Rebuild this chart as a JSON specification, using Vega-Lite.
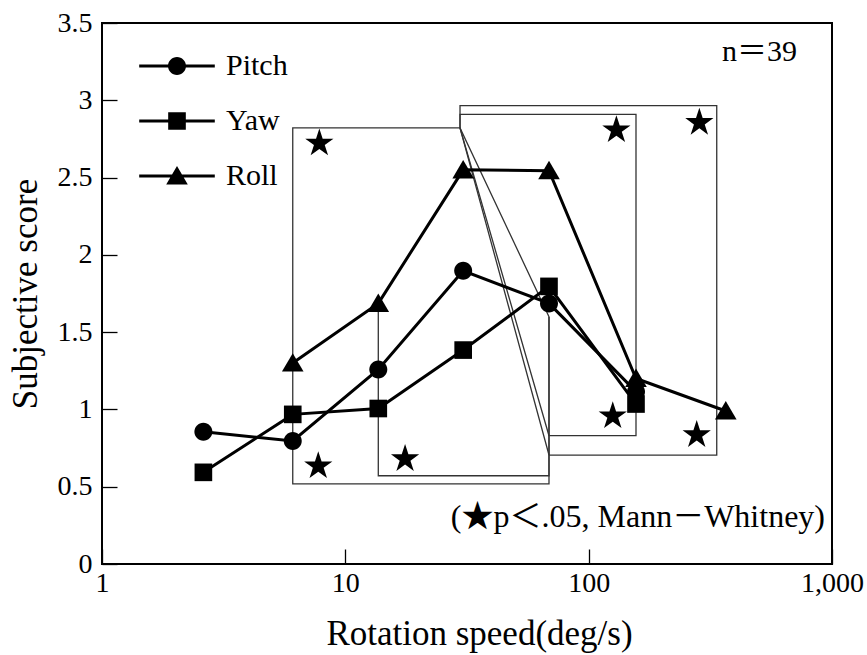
{
  "$schema": "https://vega.github.io/schema/vega-lite/v6.json",
  "width": 730,
  "height": 541,
  "autosize": {"type": "none"},
  "padding": {"left": 102, "top": 23, "right": 35, "bottom": 91},
  "background": "white",
  "config": {
    "view": {"stroke": "black", "strokeWidth": 2},
    "font": "Liberation Serif",
    "axis": {
      "grid": false, "domain": false,
      "labelFont": "Liberation Serif",
      "titleFont": "Liberation Serif",
      "labelColor": "black", "titleColor": "black", "tickColor": "black",
      "tickWidth": 1.3, "titleFontWeight": "normal"
    }
  },
  "datasets": {
    "series": [
      {"series": "Pitch", "x": 2.61, "y": 0.856},
      {"series": "Pitch", "x": 6.08, "y": 0.796},
      {"series": "Pitch", "x": 13.66, "y": 1.259},
      {"series": "Pitch", "x": 30.5, "y": 1.897},
      {"series": "Pitch", "x": 68.7, "y": 1.686},
      {"series": "Pitch", "x": 156.5, "y": 1.115},
      {"series": "Yaw", "x": 2.61, "y": 0.593},
      {"series": "Yaw", "x": 6.08, "y": 0.968},
      {"series": "Yaw", "x": 13.66, "y": 1.006},
      {"series": "Yaw", "x": 30.5, "y": 1.384},
      {"series": "Yaw", "x": 68.7, "y": 1.796},
      {"series": "Yaw", "x": 156.5, "y": 1.035},
      {"series": "Roll", "x": 6.08, "y": 1.30},
      {"series": "Roll", "x": 13.66, "y": 1.686},
      {"series": "Roll", "x": 30.5, "y": 2.55},
      {"series": "Roll", "x": 68.7, "y": 2.544},
      {"series": "Roll", "x": 156.5, "y": 1.20},
      {"series": "Roll", "x": 366, "y": 0.99}
    ],
    "brackets": [
      {"b": "A", "k": 1, "x": 68.7, "y": 1.6},
      {"b": "A", "k": 2, "x": 29.6, "y": 2.821},
      {"b": "A", "k": 3, "x": 6.08, "y": 2.821},
      {"b": "A", "k": 4, "x": 6.08, "y": 0.518},
      {"b": "A", "k": 5, "x": 68.7, "y": 0.518},
      {"b": "A", "k": 6, "x": 68.7, "y": 1.6},
      {"b": "B", "k": 1, "x": 13.66, "y": 1.69},
      {"b": "B", "k": 2, "x": 13.66, "y": 0.571},
      {"b": "B", "k": 3, "x": 68.7, "y": 0.571},
      {"b": "B", "k": 4, "x": 68.7, "y": 1.6},
      {"b": "C", "k": 1, "x": 68.7, "y": 0.83},
      {"b": "C", "k": 2, "x": 156.5, "y": 0.83},
      {"b": "C", "k": 3, "x": 156.5, "y": 2.909},
      {"b": "C", "k": 4, "x": 29.6, "y": 2.909},
      {"b": "C", "k": 5, "x": 29.6, "y": 2.821},
      {"b": "C", "k": 6, "x": 68.7, "y": 0.83},
      {"b": "D", "k": 1, "x": 68.7, "y": 0.705},
      {"b": "D", "k": 2, "x": 336, "y": 0.705},
      {"b": "D", "k": 3, "x": 336, "y": 2.965},
      {"b": "D", "k": 4, "x": 29.6, "y": 2.965},
      {"b": "D", "k": 5, "x": 29.6, "y": 2.821},
      {"b": "D", "k": 6, "x": 68.7, "y": 0.705}
    ],
    "stars": [
      {"x": 7.82, "y": 2.722},
      {"x": 7.74, "y": 0.634},
      {"x": 17.6, "y": 0.68},
      {"x": 130, "y": 2.808},
      {"x": 285, "y": 2.855},
      {"x": 125.6, "y": 0.957},
      {"x": 278, "y": 0.835}
    ],
    "notes": [
      {"x": 718, "y": 3.31, "label": "n＝39", "size": 30},
      {"x": 936, "y": 0.304, "label": "(★p＜.05, Mann－Whitney)", "size": 32}
    ]
  },
  "encoding": {
    "x": {
      "field": "x", "type": "quantitative",
      "scale": {"type": "log", "domain": [1, 1000]},
      "axis": {
        "title": "Rotation speed(deg/s)", "values": [1, 10, 100, 1000], "format": ",d",
        "tickSize": -15, "labelPadding": 20, "labelFontSize": 28, "titleFontSize": 35,
        "labelFlush": false, "labelOverlap": false, "titlePadding": 19, "titleX": 377
      }
    },
    "y": {
      "field": "y", "type": "quantitative",
      "scale": {"domain": [0, 3.5]},
      "axis": {
        "title": "Subjective score", "values": [0, 0.5, 1, 1.5, 2, 2.5, 3, 3.5], "format": "~g",
        "tickSize": -15, "labelPadding": 25, "labelFontSize": 28, "titleFontSize": 35,
        "labelFlush": false, "labelOverlap": false, "titlePadding": 14
      }
    }
  },
  "layer": [
    {
      "data": {"name": "brackets"},
      "mark": {"type": "line", "color": "#333333", "strokeWidth": 1.3},
      "encoding": {"detail": {"field": "b"}, "order": {"field": "k", "type": "quantitative"}}
    },
    {
      "data": {"name": "series"},
      "mark": {"type": "line", "color": "black", "strokeWidth": 3},
      "encoding": {"detail": {"field": "series"}}
    },
    {
      "data": {"name": "series"},
      "transform": [{"filter": "datum.series === 'Pitch'"}],
      "mark": {"type": "point", "filled": true, "color": "black", "opacity": 1, "size": 324,
               "shape": "M-1,0A1,1,0,1,1,1,0A1,1,0,1,1,-1,0Z"}
    },
    {
      "data": {"name": "series"},
      "transform": [{"filter": "datum.series === 'Yaw'"}],
      "mark": {"type": "point", "filled": true, "color": "black", "opacity": 1, "size": 324,
               "shape": "M-0.98,-0.98L0.98,-0.98L0.98,0.98L-0.98,0.98Z"}
    },
    {
      "data": {"name": "series"},
      "transform": [{"filter": "datum.series === 'Roll'"}],
      "mark": {"type": "point", "filled": true, "color": "black", "opacity": 1, "size": 324,
               "shape": "M0,-1.1L1.2,0.95L-1.2,0.95Z"}
    },
    {
      "data": {"name": "series"},
      "transform": [{"filter": "false"}],
      "mark": {"type": "point", "filled": true, "color": "black", "opacity": 1, "size": 324},
      "encoding": {
        "shape": {
          "field": "series", "type": "nominal",
          "scale": {
            "domain": ["Pitch", "Yaw", "Roll"],
            "range": [
              "M-1,0A1,1,0,1,1,1,0A1,1,0,1,1,-1,0Z M-4.2,-0.17L4.2,-0.17L4.2,0.17L-4.2,0.17Z",
              "M-0.98,-0.98L0.98,-0.98L0.98,0.98L-0.98,0.98Z M-4.2,-0.17L4.2,-0.17L4.2,0.17L-4.2,0.17Z",
              "M0,-1.1L1.2,0.95L-1.2,0.95Z M-4.2,-0.17L4.2,-0.17L4.2,0.17L-4.2,0.17Z"
            ]
          },
          "legend": {
            "orient": "none", "legendX": 60, "legendY": 28, "title": null,
            "padding": 0, "labelFontSize": 30, "labelFont": "Liberation Serif", "labelColor": "black",
            "symbolSize": 324, "rowPadding": 25, "labelOffset": 34,
            "symbolFillColor": "black", "symbolOpacity": 1, "symbolStrokeWidth": 0
          }
        }
      }
    },
    {
      "data": {"name": "stars"},
      "mark": {
        "type": "point", "filled": true, "color": "black", "opacity": 1, "size": 880,
        "shape": "M0,-1L0.2245,-0.309L0.9511,-0.309L0.3633,0.118L0.5878,0.809L0,0.382L-0.5878,0.809L-0.3633,0.118L-0.9511,-0.309L-0.2245,-0.309Z"
      }
    },
    {
      "data": {"name": "notes"},
      "mark": {"type": "text", "align": "right", "baseline": "middle", "font": "Liberation Serif, Noto Sans CJK JP", "color": "black"},
      "encoding": {"text": {"field": "label"}, "size": {"field": "size", "type": "quantitative", "scale": null}}
    }
  ]
}
